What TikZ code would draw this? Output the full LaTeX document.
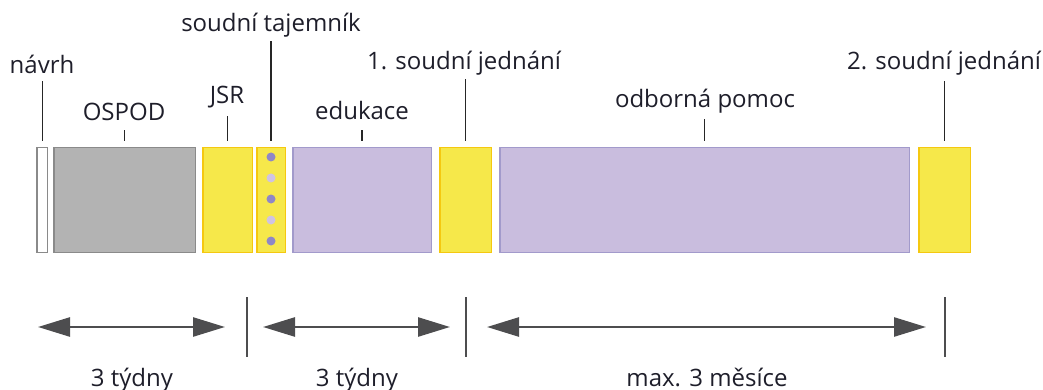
\documentclass[tikz,border=0pt]{standalone}
\usepackage{fontspec}
\setmainfont{Open Sans}
\usetikzlibrary{arrows.meta}
\definecolor{yfill}{HTML}{F6E84A}
\definecolor{ydraw}{HTML}{F5C810}
\definecolor{pfill}{HTML}{C9BDDE}
\definecolor{pdraw}{HTML}{A29ACB}
\definecolor{gfill}{HTML}{B3B3B3}
\definecolor{gdraw}{HTML}{8A8A8A}
\definecolor{dotdark}{HTML}{8F87C6}
\definecolor{dotlight}{HTML}{CFC3E3}
\definecolor{arrowc}{HTML}{4D4D4F}
\definecolor{txt}{HTML}{1E1E2A}
\begin{document}
\begin{tikzpicture}[x=1pt,y=-1pt,
  box/.style={line width=1.5pt, minimum height=104.5pt, inner sep=0pt, outer sep=0pt},
  ybox/.style={box, draw=ydraw, fill=yfill},
  pbox/.style={box, draw=pdraw, fill=pfill},
  lbl/.style={font=\fontsize{24}{24}\selectfont, text=txt, inner sep=0pt, anchor=base},
  lead/.style={draw=black!85, line width=1.6pt},
  sep/.style={draw=arrowc, line width=2pt},
  span/.style={draw=arrowc, line width=2.6pt, {Triangle[length=32pt,width=19pt]}-{Triangle[length=32pt,width=19pt]}},
  sdot/.style={circle, inner sep=0pt, minimum size=9pt}
]
\useasboundingbox (0,0) rectangle (1043,390);

% boxes
\node[box, draw=gdraw, fill=white, minimum width=10.5pt] (navrh) at (42.3,200) {};
\node[box, draw=gdraw, fill=gfill, minimum width=141.5pt] (ospod) at (124.5,200) {};
\node[ybox, minimum width=49.5pt] (jsr) at (227.5,200) {};
\node[ybox, minimum width=28.5pt] (st) at (271,200) {};
\node[pbox, minimum width=138.5pt] (edu) at (362,200) {};
\node[ybox, minimum width=51.5pt] (j1) at (465.5,200) {};
\node[pbox, minimum width=409.5pt] (odb) at (704.5,200) {};
\node[ybox, minimum width=51.5pt] (j2) at (944.5,200) {};

% dots
\node[sdot, fill=dotdark]  (d1) at (271,157) {};
\node[sdot, fill=dotlight] (d2) at (271,178) {};
\node[sdot, fill=dotdark]  (d3) at (271,199) {};
\node[sdot, fill=dotlight] (d4) at (271,220) {};
\node[sdot, fill=dotdark]  (d5) at (271,241) {};

% labels
\node[lbl] (Lnavrh) at (42,74) {návrh};
\node[lbl] (Lospod) at (124,121) {OSPOD};
\node[lbl] (Ljsr) at (227,104) {JSR};
\node[lbl] (Lst) at (271,32) {soudní tajemník};
\node[lbl] (Ledu) at (362,120) {edukace};
\node[lbl] (Lj1) at (464,70) {1. soudní jednání};
\node[lbl] (Lodb) at (705,108) {odborná pomoc};
\node[lbl] (Lj2) at (944,70) {2. soudní jednání};

% leader lines
\draw[lead] (navrh.north) ++(0,-7) -- ++(0,-60);
\draw[lead] (ospod.north) ++(0,-7) -- ++(0,-11);
\draw[lead] (jsr.north) ++(0,-7) -- ++(0,-25);
\draw[lead] (st.north) ++(0,-7) -- ++(0,-100);
\draw[lead] (edu.north) ++(0,-7) -- ++(0,-11);
\draw[lead] (j1.north) ++(0,-7) -- ++(0,-62);
\draw[lead] (odb.north) ++(0,-7) -- ++(0,-22);
\draw[lead] (j2.north) ++(0,-7) -- ++(0,-60);

% separators
\coordinate (s1t) at (247,297); \coordinate (s1b) at (247,357);
\coordinate (s2t) at (466,297); \coordinate (s2b) at (466,357);
\coordinate (s3t) at (945,297); \coordinate (s3b) at (945,357);
\draw[sep] (s1t) -- (s1b);
\draw[sep] (s2t) -- (s2b);
\draw[sep] (s3t) -- (s3b);

% spans
\coordinate (a1l) at (38,327);  \coordinate (a1r) at (225,327);
\coordinate (a2l) at (263,327); \coordinate (a2r) at (450,327);
\coordinate (a3l) at (487,327); \coordinate (a3r) at (926,327);
\draw[span] (a1l) -- (a1r);
\draw[span] (a2l) -- (a2r);
\draw[span] (a3l) -- (a3r);

\node[lbl] (T1) at (132,386) {3 týdny};
\node[lbl] (T2) at (357,386) {3 týdny};
\node[lbl] (T3) at (707,386) {max. 3 měsíce};
\end{tikzpicture}
\end{document}
